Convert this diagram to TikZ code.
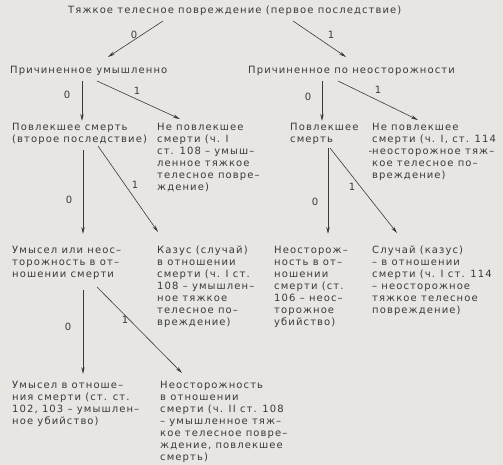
\documentclass[tikz,border=0pt]{standalone}
\usepackage{fontspec}
\setmainfont[LetterSpace=11]{DejaVu Sans}
\usetikzlibrary{arrows.meta}
\definecolor{paper}{RGB}{231,230,226}
\definecolor{ink}{RGB}{58,58,58}
\tikzset{
	txt/.style={anchor=north west, align=left, inner sep=0pt, text=ink, font=\fontsize{10}{12}\selectfont},
	lbl/.style={inner sep=0pt, text=ink, font=\fontsize{10}{12}\selectfont},
	arr/.style={draw=ink, line width=0.6pt, -{Stealth[length=7pt,width=3.4pt]}}
}

\begin{document}
\begin{tikzpicture}[x=1pt, y=-1pt]
			%%%%% START %%%%%
			
			\fill[paper] (0,0) rectangle (503,465);
			\useasboundingbox (0,0) rectangle (503,465);
			
			\node[txt] (root) at (68,6) {Тяжкое телесное повреждение (первое последствие)};
			
			\node[txt] (intent) at (10,66) {Причиненное умышленно};
			\node[txt] (negl) at (248,66) {Причиненное по неосторожности};
			
			\node[txt] (intDeath) at (12,123) {Повлекшее смерть\\(второе последствие)};
			\node[txt] (intNoDeath) at (157,123) {Не повлекшее\\смерти (ч. I\\ст. 108 – умыш–\\ленное тяжкое\\телесное повре–\\ждение)};
			\node[txt] (negDeath) at (290,123) {Повлекшее\\смерть};
			\node[txt] (negNoDeath) at (372,123) {Не повлекшее\\смерти (ч. I, ст. 114\\\llap{-}неосторожное тяж–\\кое телесное по–\\вреждение)};
			
			\node[txt] (mixed) at (12,246) {Умысел или неос–\\торожность в от–\\ношении смерти};
			\node[txt] (casusInt) at (157,246) {Казус (случай)\\в отношении\\смерти (ч. I ст.\\108 – умышлен–\\ное тяжкое\\телесное по–\\вреждение)};
			\node[txt] (neglGuilt) at (274,246) {Неосторож–\\ность в от–\\ношении\\смерти (ст.\\106 – неос–\\торожное\\убийство)};
			\node[txt] (casusNeg) at (372,246) {Случай (казус)\\– в отношении\\смерти (ч. I ст. 114\\– неосторожное\\тяжкое телесное\\повреждение)};
			
			\node[txt] (intentKill) at (12,381) {Умысел в отноше–\\ния смерти (ст. ст.\\102, 103 – умышлен–\\ное убийство)};
			\node[txt] (neglDeath) at (160,381) {Неосторожность\\в отношении\\смерти (ч. II ст. 108\\– умышленное тяж–\\кое телесное повре–\\ждение, повлекшее\\смерть)};
			
			% first consequence
			\draw[arr] ([shift={(95,15)}]root.north west) -- ([shift={(98,-9)}]intent.north west);
			\draw[arr] ([shift={(225,15)}]root.north west) -- ([shift={(98,-9)}]negl.north west);
			\node[lbl] (z1) at (134,35) {0};
			\node[lbl] (o1) at (331,35) {1};
			
			% intent / negligence
			\draw[arr] ([shift={(72,15)}]intent.north west) -- ([shift={(70,-2)}]intDeath.north west);
			\draw[arr] ([shift={(87,15)}]intent.north west) -- ([shift={(23,-4)}]intNoDeath.north west);
			\draw[arr] ([shift={(74,15)}]negl.north west) -- ([shift={(32,-2)}]negDeath.north west);
			\draw[arr] ([shift={(90,15)}]negl.north west) -- ([shift={(46,-3)}]negNoDeath.north west);
			\node[lbl] (z2) at (67,95) {0};
			\node[lbl] (o2) at (137,91) {1};
			\node[lbl] (z3) at (308,97) {0};
			\node[lbl] (o3) at (378,90) {1};
			
			% second consequence
			\draw[arr] ([shift={(71,27)}]intDeath.north west) -- ([shift={(71,-12)}]mixed.north west);
			\draw[arr] ([shift={(86,23)}]intDeath.north west) -- ([shift={(1,-14)}]casusInt.north west);
			\draw[arr] ([shift={(38,25)}]negDeath.north west) -- ([shift={(54,-12)}]neglGuilt.north west);
			\draw[arr] ([shift={(40,25)}]negDeath.north west) -- ([shift={(25,-13)}]casusNeg.north west);
			\node[lbl] (z4) at (69,200) {0};
			\node[lbl] (o4) at (135,185) {1};
			\node[lbl] (z5) at (315,202) {0};
			\node[lbl] (o5) at (352,187) {1};
			
			% guilt as to death
			\draw[arr] ([shift={(71,44)}]mixed.north west) -- ([shift={(71,-7)}]intentKill.north west);
			\draw[arr] ([shift={(85,41)}]mixed.north west) -- ([shift={(22,-8)}]neglDeath.north west);
			\node[lbl] (z6) at (68,327) {0};
			\node[lbl] (o6) at (125,320) {1};
			
			%%%%% END %%%%%
\end{tikzpicture}
\end{document}
